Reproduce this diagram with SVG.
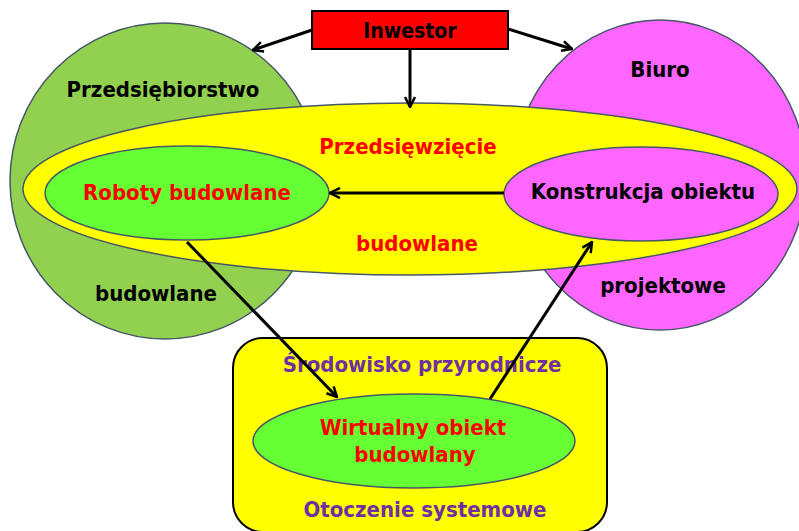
<svg xmlns="http://www.w3.org/2000/svg" width="799" height="531" viewBox="0 0 799 531">
  <defs>
    <marker id="arrow" viewBox="0 0 12 12" refX="11" refY="6" markerWidth="12" markerHeight="12" markerUnits="userSpaceOnUse" orient="auto">
      <path d="M1,1 L11,6 L1,11" fill="none" stroke="#000" stroke-width="2.5" stroke-linejoin="miter"/>
    </marker>
  </defs>
  <style>
    text { font-family: "DejaVu Sans Condensed", "DejaVu Sans", sans-serif; font-stretch: condensed; font-weight: bold; font-size: 22px; text-anchor: middle; }
    .shape { stroke: #465766; stroke-width: 1.5; }
    .black { fill: #000; }
    .red { fill: #FF0000; }
    .purple { fill: #7030A0; }
    .conn { stroke: #000; stroke-width: 3; fill: none; marker-end: url(#arrow); }
  </style>
  <rect width="799" height="531" fill="#fff"/>

  <!-- company -->
  <g id="przedsiebiorstwo">
    <ellipse class="shape" cx="165" cy="181" rx="155" ry="158" fill="#92D050"/>
    <text class="black" x="163" y="97">Przedsiębiorstwo</text>
    <text class="black" x="156" y="301">budowlane</text>
  </g>

  <!-- design office -->
  <g id="biuro">
    <ellipse class="shape" cx="660" cy="175" rx="146" ry="155" fill="#FF66FF"/>
    <text class="black" x="660" y="77">Biuro</text>
    <text class="black" x="663" y="293">projektowe</text>
  </g>

  <!-- construction project -->
  <g id="przedsiewziecie">
    <ellipse class="shape" cx="410" cy="189" rx="387" ry="86" fill="#FFFF00"/>
    <text class="red" x="408" y="154">Przedsięwzięcie</text>
    <text class="red" x="417" y="251">budowlane</text>
  </g>

  <g id="roboty">
    <ellipse class="shape" cx="187" cy="193" rx="142" ry="47" fill="#66FF33"/>
    <text class="red" x="187" y="200">Roboty budowlane</text>
  </g>

  <g id="konstrukcja">
    <ellipse class="shape" cx="641" cy="194" rx="137" ry="47" fill="#FF66FF"/>
    <text class="black" x="643" y="199">Konstrukcja obiektu</text>
  </g>

  <!-- system environment -->
  <g id="otoczenie">
    <rect x="233" y="338" width="374" height="194" rx="30" ry="30" fill="#FFFF00" stroke="#000" stroke-width="2"/>
    <text class="purple" x="422" y="372">Środowisko przyrodnicze</text>
    <text class="purple" x="425" y="517">Otoczenie systemowe</text>
  </g>

  <g id="wirtualny">
    <ellipse class="shape" cx="414" cy="441" rx="161" ry="47" fill="#66FF33"/>
    <text class="red" x="413" y="435">Wirtualny obiekt</text>
    <text class="red" x="415" y="462">budowlany</text>
  </g>

  <g id="inwestor">
    <rect x="312" y="11" width="196" height="38" fill="#FF0000" stroke="#000" stroke-width="2"/>
    <text class="black" x="410" y="38" style="font-size:21px">Inwestor</text>
  </g>

  <!-- connectors -->
  <g id="connectors">
    <line class="conn" x1="312" y1="30" x2="253" y2="50" stroke-width="2.5"/>
    <line class="conn" x1="508" y1="29" x2="572" y2="49" stroke-width="2.5"/>
    <line class="conn" x1="410" y1="49" x2="410" y2="107" stroke-width="2.5"/>
    <line class="conn" x1="504" y1="193" x2="330" y2="193"/>
    <line class="conn" x1="187" y1="242" x2="337" y2="397"/>
    <line class="conn" x1="490" y1="399" x2="592" y2="242"/>
  </g>
</svg>
